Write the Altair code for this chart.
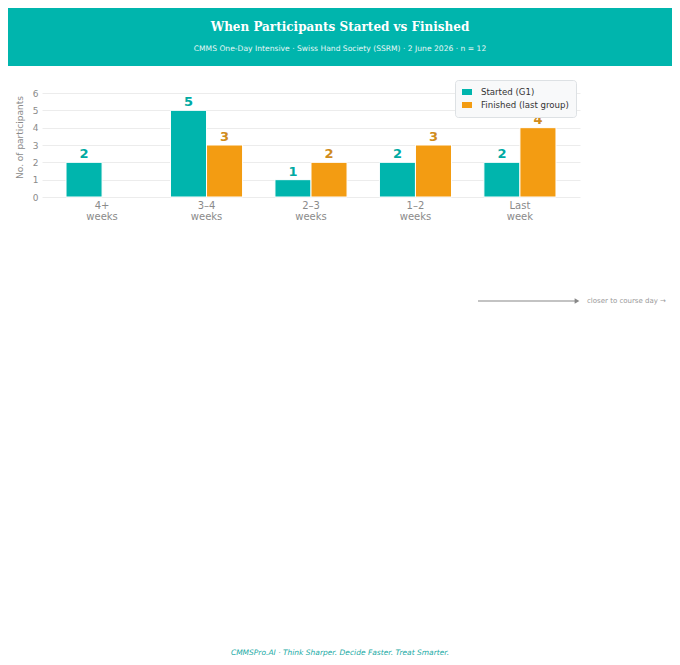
import altair as alt
import pandas as pd

# ---- data ----
categories = ["4+ weeks", "3–4 weeks", "2–3 weeks", "1–2 weeks", "Last week"]
series = ["Started (G1)", "Finished (last group)"]
started = [2, 5, 1, 2, 2]
finished = [0, 3, 2, 3, 4]
bar_colors = ["#00B5AD", "#F39C12"]
label_colors = ["#00AAA3", "#D08C1C"]
y_ticks = [0, 1, 2, 3, 4, 5, 6]

title_text = "When Participants Started vs Finished"
subtitle_text = "CMMS One-Day Intensive  ·  Swiss Hand Society (SSRM)  ·  2 June 2026  ·  n = 12"
note_text = "closer to course day →"
footer_text = "CMMSPro.AI  ·  Think Sharper. Decide Faster. Treat Smarter."

rows = []
for s, vals, lc in zip(series, [started, finished], label_colors):
    for c, v in zip(categories, vals):
        rows.append({"category": c, "series": s, "value": v, "lcolor": lc})
df = pd.DataFrame(rows)
one = pd.DataFrame({"k": [0]})

W, H = 538, 104

x_enc = alt.X(
    "category:N", sort=categories,
    scale=alt.Scale(domain=categories, paddingInner=0.31, paddingOuter=0.23),
    axis=alt.Axis(title=None, labelExpr="split(datum.label, ' ')", labelAngle=0,
                  domain=False, ticks=False, labelColor="#8a8a8a", labelFontSize=10,
                  labelPadding=3, labelLineHeight=11),
)
xoff_enc = alt.XOffset("series:N", sort=series,
                       scale=alt.Scale(domain=series, paddingInner=0, paddingOuter=0))
y_enc = alt.Y(
    "value:Q", scale=alt.Scale(domain=[0, 6]),
    axis=alt.Axis(values=y_ticks, title="No. of participants", titleColor="#8a8a8a",
                  titleFontSize=9, titleFontWeight="normal", titleX=-23, titleY=44,
                  titleAngle=270, titleAlign="center", titleBaseline="middle",
                  labelColor="#8a8a8a", labelFontSize=9, labelPadding=4,
                  domain=False, ticks=False, gridColor="#ececec", format="d"),
)

bars = alt.Chart(df).transform_filter("datum.value > 0").mark_bar(
    stroke="white", strokeWidth=1
).encode(
    x=x_enc, xOffset=xoff_enc, y=y_enc,
    color=alt.Color(
        "series:N", sort=series,
        scale=alt.Scale(domain=series, range=bar_colors),
        legend=alt.Legend(title=None, orient="none", legendX=413, legendY=-13,
                          fillColor="#f8f9fa", strokeColor="#dde1e4", cornerRadius=3,
                          padding=7, rowPadding=3, labelFontSize=8.6, labelColor="#333333",
                          labelOffset=9, symbolType="M-1,-0.6H1V0.6H-1Z", symbolSize=100,
                          symbolStrokeWidth=0, offset=0),
    ),
)

labels = alt.Chart(df).transform_filter("datum.value > 0").mark_text(
    fontSize=13, fontWeight="bold", baseline="alphabetic", dy=-4
).encode(
    x=x_enc, xOffset=xoff_enc, y=y_enc,
    text="value:Q",
    color=alt.Color("lcolor:N", scale=None),
)

banner = alt.Chart(one).mark_rect(color="#00B5AD").encode(
    x=alt.value(-34), x2=alt.value(630), y=alt.value(-85), y2=alt.value(-27)
)
title = alt.Chart(one).mark_text(
    text=title_text, font="DejaVu Serif", fontWeight="bold", fontSize=12,
    color="white", align="center", baseline="middle"
).encode(x=alt.value(298), y=alt.value(-66))
subtitle = alt.Chart(one).mark_text(
    text=subtitle_text, fontSize=7.6, color="#e6f7f6", align="center", baseline="middle"
).encode(x=alt.value(298), y=alt.value(-44))

arrow_line = alt.Chart(one).mark_rule(color="#888888", strokeWidth=1.2).encode(
    x=alt.value(436), x2=alt.value(534), y=alt.value(208)
)
arrow_head = alt.Chart(one).mark_point(
    shape="triangle-right", filled=True, color="#888888", size=30, opacity=1
).encode(x=alt.value(535), y=alt.value(208))
note = alt.Chart(one).mark_text(
    text=note_text, fontSize=7, color="#999999", align="left", baseline="middle"
).encode(x=alt.value(545), y=alt.value(208))
footer = alt.Chart(one).mark_text(
    text=footer_text, fontSize=7.5, fontStyle="italic", color="#1AAAA5",
    align="center", baseline="middle"
).encode(x=alt.value(298), y=alt.value(560))

chart = alt.layer(
    banner, title, subtitle, bars, labels, arrow_line, arrow_head, note, footer
).properties(
    width=W, height=H, padding=0, background="white"
).configure(font="DejaVu Sans").configure_view(stroke=None)

chart.save("out.html", embed_options={"renderer": "svg", "actions": False})
